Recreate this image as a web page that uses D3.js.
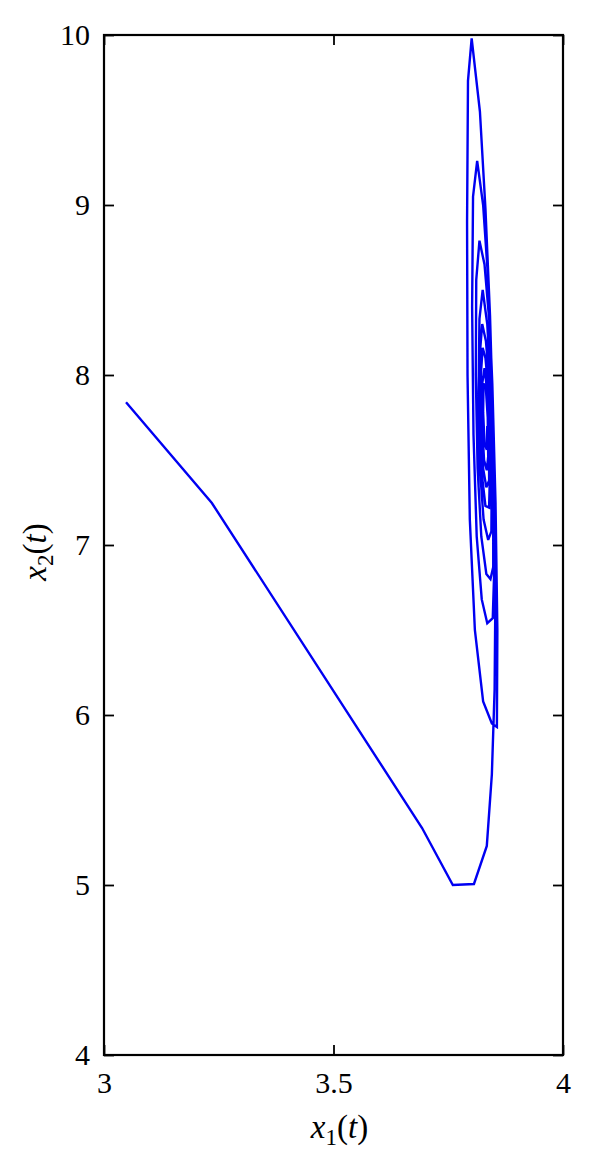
<!DOCTYPE html>
<html>
<head>
<meta charset="utf-8">
<script src="https://cdn.jsdelivr.net/npm/d3@7"></script>
<style>
  html, body { margin: 0; padding: 0; background: #fff; }
  svg { display: block; }
  text { font-family: "Liberation Serif", "DejaVu Serif", serif; fill: #000; }
</style>
</head>
<body>
<svg id="chart" width="592" height="1174"></svg>
<script>
// ---- data ----
const xTicks = [3, 3.5, 4];
const xTickLabels = ["3", "3.5", "4"];
const yTicks = [4, 5, 6, 7, 8, 9, 10];
const yTickLabels = ["4", "5", "6", "7", "8", "9", "10"];

const x1Values = [
  3.048, 3.235, 3.693, 3.760, 3.806, 3.834, 3.845, 3.851,
  3.853, 3.849, 3.841, 3.831, 3.819, 3.801,
  3.793, 3.791, 3.792, 3.797, 3.808, 3.826, 3.845, 3.856,
  3.857, 3.853, 3.846, 3.836, 3.826, 3.813,
  3.804, 3.802, 3.805, 3.812, 3.823, 3.835, 3.847,
  3.853, 3.848, 3.840, 3.829, 3.818,
  3.811, 3.810, 3.814, 3.822, 3.833, 3.842, 3.848,
  3.848, 3.843, 3.835, 3.825,
  3.818, 3.816, 3.819, 3.827, 3.837, 3.844,
  3.845, 3.840, 3.832, 3.824,
  3.819, 3.819, 3.823, 3.831, 3.839,
  3.842, 3.838, 3.831, 3.825,
  3.821, 3.822, 3.826, 3.833, 3.839,
  3.839, 3.835, 3.829,
  3.824, 3.824, 3.828, 3.834, 3.837,
  3.836, 3.832, 3.827, 3.826, 3.829, 3.834, 3.835
];
const x2Values = [
  7.840, 7.247, 5.335, 5.000, 5.006, 5.230, 5.650, 6.150,
  6.800, 7.600, 8.350, 8.980, 9.550, 9.980,
  9.730, 8.900, 8.000, 7.150, 6.500, 6.080, 5.950, 5.930,
  6.500, 7.250, 7.950, 8.600, 9.000, 9.260,
  9.050, 8.400, 7.650, 7.050, 6.680, 6.540, 6.570,
  7.100, 7.750, 8.300, 8.650, 8.790,
  8.560, 8.000, 7.450, 7.050, 6.830, 6.800, 6.870,
  7.350, 7.900, 8.300, 8.500,
  8.330, 7.900, 7.450, 7.150, 7.030, 7.080,
  7.500, 7.950, 8.200, 8.300,
  8.130, 7.750, 7.420, 7.230, 7.220,
  7.550, 7.900, 8.100, 8.160,
  8.000, 7.700, 7.450, 7.340, 7.380,
  7.650, 7.900, 8.040,
  7.950, 7.700, 7.500, 7.440, 7.520,
  7.750, 7.920, 7.950, 7.780, 7.600, 7.560, 7.700
];

(function () {
// ---- layout ----
const svg = d3.select("#chart");
const pLeft = 104, pRight = 563, pTop = 35, pBottom = 1055;
const x = d3.scaleLinear().domain([3, 4]).range([pLeft, pRight]);
const y = d3.scaleLinear().domain([4, 10]).range([pBottom, pTop]);
const tickLen = 10;

// trajectory
const pts = x1Values.map((v, i) => [v, x2Values[i]]);
const line = d3.line().x(d => x(d[0])).y(d => y(d[1]));
svg.append("path")
  .datum(pts)
  .attr("d", line)
  .attr("fill", "none")
  .attr("stroke", "#0000f2")
  .attr("stroke-width", 2.4)
  .attr("stroke-linejoin", "miter")
  .attr("stroke-miterlimit", 3);

// axes (ticks inward, no domain)
const fontSize = 30;
const xAxisB = d3.axisBottom(x).tickValues(xTicks).tickSizeInner(-tickLen).tickSizeOuter(0)
  .tickPadding(17).tickFormat((d, i) => xTickLabels[i]);
const gxb = svg.append("g").attr("transform", `translate(0,${pBottom})`).call(xAxisB);
gxb.select(".domain").remove();

const xAxisT = d3.axisTop(x).tickValues(xTicks).tickSizeInner(-tickLen).tickSizeOuter(0).tickFormat("");
const gxt = svg.append("g").attr("transform", `translate(0,${pTop})`).call(xAxisT);
gxt.select(".domain").remove();

const yAxisL = d3.axisLeft(y).tickValues(yTicks).tickSizeInner(-tickLen).tickSizeOuter(0)
  .tickPadding(14).tickFormat((d, i) => yTickLabels[i]);
const gyl = svg.append("g").attr("transform", `translate(${pLeft},0)`).call(yAxisL);
gyl.select(".domain").remove();

const yAxisR = d3.axisRight(y).tickValues(yTicks).tickSizeInner(-tickLen).tickSizeOuter(0).tickFormat("");
const gyr = svg.append("g").attr("transform", `translate(${pRight},0)`).call(yAxisR);
gyr.select(".domain").remove();

svg.selectAll(".tick line").attr("stroke", "#000").attr("stroke-width", 1.8);
svg.selectAll(".tick text")
  .style("font-family", '"Liberation Serif", serif')
  .style("font-size", fontSize + "px")
  .attr("fill", "#000");
gxb.selectAll(".tick text").attr("dy", "0.71em");

// frame
svg.append("rect")
  .attr("x", pLeft).attr("y", pTop)
  .attr("width", pRight - pLeft).attr("height", pBottom - pTop)
  .attr("fill", "none").attr("stroke", "#000").attr("stroke-width", 2.2);

// axis labels
const xl = svg.append("text")
  .attr("x", x(3.5) + 6).attr("y", 1138)
  .attr("text-anchor", "middle")
  .style("font-size", "33px");
xl.append("tspan").style("font-style", "italic").text("x");
xl.append("tspan").attr("dy", 7).style("font-size", "23px").text("1");
xl.append("tspan").attr("dy", -7).text("(");
xl.append("tspan").style("font-style", "italic").text("t");
xl.append("tspan").text(")");

const yl = svg.append("text")
  .attr("transform", `translate(46,552) rotate(-90)`)
  .attr("text-anchor", "middle")
  .style("font-size", "33px");
yl.append("tspan").style("font-style", "italic").text("x");
yl.append("tspan").attr("dy", 7).style("font-size", "23px").text("2");
yl.append("tspan").attr("dy", -7).text("(");
yl.append("tspan").style("font-style", "italic").text("t");
yl.append("tspan").text(")");
})();
</script>
</body>
</html>
